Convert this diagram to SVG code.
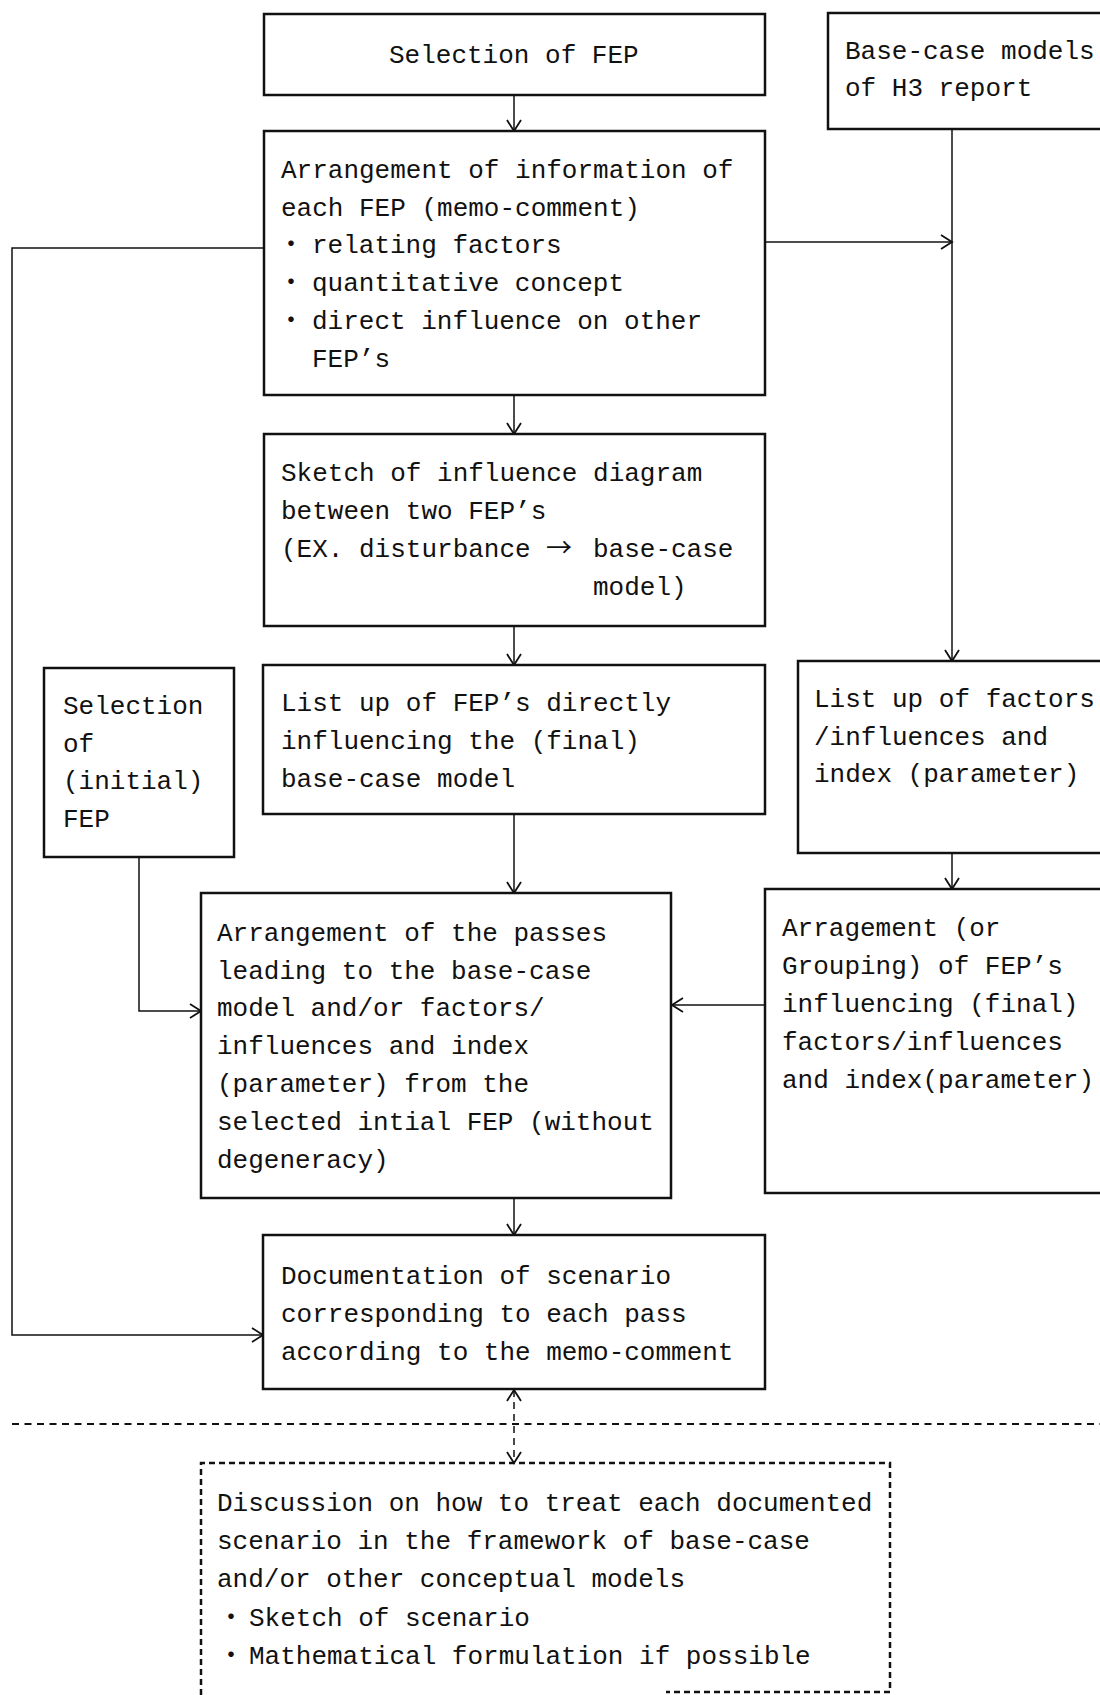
<svg xmlns="http://www.w3.org/2000/svg" width="1100" height="1695" viewBox="0 0 1100 1695">
  <defs>
    <style>
      .box { fill: #fff; stroke: #111; stroke-width: 2.5; }
      .dbox { fill: none; stroke: #111; stroke-width: 2.5; stroke-dasharray: 6 4; }
      .wire { fill: none; stroke: #111; stroke-width: 1.5; }
      .dwire { fill: none; stroke: #111; stroke-width: 1.5; stroke-dasharray: 7 5; }
      .sep { fill: none; stroke: #111; stroke-width: 1.8; stroke-dasharray: 7 5.5; }
      text { font-family: "Liberation Mono", "Noto Sans CJK JP", monospace; font-size: 26px; fill: #111; }
      .cjk { font-family: "Noto Sans CJK JP", sans-serif; }
    </style>
    <marker id="arrow" markerUnits="userSpaceOnUse" markerWidth="14" markerHeight="16" viewBox="0 0 14 16" refX="12" refY="8" orient="auto-start-reverse">
      <path d="M1,1 L12,8 L1,15" fill="none" stroke="#111" stroke-width="1.8"/>
    </marker>
  </defs>

  <!-- connectors -->
  <g id="connectors">
    <line class="wire" x1="514" y1="95" x2="514" y2="131" marker-end="url(#arrow)"/>
    <line class="wire" x1="514" y1="395" x2="514" y2="434" marker-end="url(#arrow)"/>
    <line class="wire" x1="514" y1="626" x2="514" y2="665" marker-end="url(#arrow)"/>
    <line class="wire" x1="514" y1="814" x2="514" y2="893" marker-end="url(#arrow)"/>
    <line class="wire" x1="514" y1="1198" x2="514" y2="1235" marker-end="url(#arrow)"/>
    <line class="wire" x1="952" y1="129" x2="952" y2="661" marker-end="url(#arrow)"/>
    <line class="wire" x1="765" y1="242" x2="952" y2="242" marker-end="url(#arrow)"/>
    <polyline class="wire" points="264,248 12,248 12,1335 263,1335" marker-end="url(#arrow)"/>
    <polyline class="wire" points="139,857 139,1011 201,1011" marker-end="url(#arrow)"/>
    <line class="wire" x1="952" y1="853" x2="952" y2="889" marker-end="url(#arrow)"/>
    <line class="wire" x1="765" y1="1005" x2="672" y2="1005" marker-end="url(#arrow)"/>
    <line class="dwire" x1="514" y1="1390" x2="514" y2="1463" marker-start="url(#arrow)" marker-end="url(#arrow)"/>
    <line class="sep" x1="12" y1="1424" x2="1100" y2="1424"/>
  </g>

  <g id="select-fep">
    <rect class="box" x="264" y="14" width="501" height="81"/>
    <text x="389" y="63">Selection of FEP</text>
  </g>

  <g id="base-case-models">
    <rect class="box" x="828" y="13" width="300" height="116"/>
    <text x="845" y="59">Base-case models</text>
    <text x="845" y="96">of H3 report</text>
  </g>

  <g id="arrange-info">
    <rect class="box" x="264" y="131" width="501" height="264"/>
    <text x="281" y="178">Arrangement of information of</text>
    <text x="281" y="216">each FEP (memo-comment)</text>
    <text y="253"><tspan x="278">・</tspan><tspan x="312">relating factors</tspan></text>
    <text y="291"><tspan x="278">・</tspan><tspan x="312">quantitative concept</tspan></text>
    <text y="329"><tspan x="278">・</tspan><tspan x="312">direct influence on other</tspan></text>
    <text x="312" y="367">FEP’s</text>
  </g>

  <g id="influence-sketch">
    <rect class="box" x="264" y="434" width="501" height="192"/>
    <text x="281" y="481">Sketch of influence diagram</text>
    <text x="281" y="519">between two FEP’s</text>
    <text y="557"><tspan x="281">(EX. disturbance</tspan><tspan class="cjk" x="546">→</tspan><tspan x="593">base-case</tspan></text>
    <text x="593" y="595">model)</text>
  </g>

  <g id="list-feps">
    <rect class="box" x="263" y="665" width="502" height="149"/>
    <text x="281" y="711">List up of FEP’s directly</text>
    <text x="281" y="749">influencing the (final)</text>
    <text x="281" y="787">base-case model</text>
  </g>

  <g id="initial-fep">
    <rect class="box" x="44" y="668" width="190" height="189"/>
    <text x="63" y="714">Selection</text>
    <text x="63" y="752">of</text>
    <text x="63" y="789">(initial)</text>
    <text x="63" y="827">FEP</text>
  </g>

  <g id="list-factors">
    <rect class="box" x="798" y="661" width="330" height="192"/>
    <text x="814" y="707">List up of factors</text>
    <text x="814" y="745">/influences and</text>
    <text x="814" y="782">index (parameter)</text>
  </g>

  <g id="arrange-passes">
    <rect class="box" x="201" y="893" width="470" height="305"/>
    <text x="217" y="941">Arrangement of the passes</text>
    <text x="217" y="979">leading to the base-case</text>
    <text x="217" y="1016">model and/or factors/</text>
    <text x="217" y="1054">influences and index</text>
    <text x="217" y="1092">(parameter) from the</text>
    <text x="217" y="1130">selected intial FEP (without</text>
    <text x="217" y="1168">degeneracy)</text>
  </g>

  <g id="grouping">
    <rect class="box" x="765" y="889" width="363" height="304"/>
    <text x="782" y="936">Arragement (or</text>
    <text x="782" y="974">Grouping) of FEP’s</text>
    <text x="782" y="1012">influencing (final)</text>
    <text x="782" y="1050">factors/influences</text>
    <text x="782" y="1088">and index(parameter)</text>
  </g>

  <g id="documentation">
    <rect class="box" x="263" y="1235" width="502" height="154"/>
    <text x="281" y="1284">Documentation of scenario</text>
    <text x="281" y="1322">corresponding to each pass</text>
    <text x="281" y="1360">according to the memo-comment</text>
  </g>

  <g id="discussion">
    <!-- dashed frame: the bottom edge only shows on its right part -->
    <path class="dbox" d="M201,1695 L201,1463 L890,1463 L890,1692 L666,1692"/>
    <text x="217" y="1511">Discussion on how to treat each documented</text>
    <text x="217" y="1549">scenario in the framework of base-case</text>
    <text x="217" y="1587">and/or other conceptual models</text>
    <text y="1626"><tspan x="218">・</tspan><tspan x="249">Sketch of scenario</tspan></text>
    <text y="1664"><tspan x="218">・</tspan><tspan x="249">Mathematical formulation if possible</tspan></text>
  </g>
</svg>
